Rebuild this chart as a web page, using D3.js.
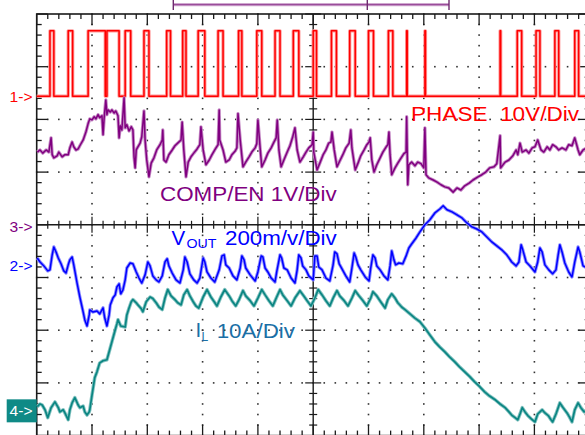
<!DOCTYPE html>
<html><head><meta charset="utf-8">
<script src="https://cdn.jsdelivr.net/npm/d3@7"></script>
<style>
html,body{margin:0;padding:0;background:#fff;}
svg{display:block;font-family:"Liberation Sans",Arial,sans-serif;}
</style></head><body>
<svg id="scope" width="585" height="435"></svg>
<script>
// Time axis: 10 divisions, 10 µs/div -> times in µs from the left edge of the screen.
const timeSpan = [0, 100];
const vertDivs = 4;              // ±4 divisions around the centre line
const minorPerDiv = 5;

// PHASE switch node: pulse [start, end] times in µs, levels in V
const phasePulses = [
  [2.4,3.1],[5.7,6.5],[9.3,12.4],[12.7,14.9],[16.0,17.0],[19.4,20.3],[23.5,24.2],[26.4,27.0],
  [29.2,30.4],[32.8,33.7],[36.5,37.1],[39.8,40.7],[43.1,44.0],[46.4,47.4],[50.0,50.6],[53.3,54.2],
  [56.6,57.6],[60.0,60.9],[63.6,64.4],[66.9,67.0],[70.2,70.3],[83.8,83.9],[86.9,87.7],[90.3,91.0],
  [93.7,94.4],[97.3,98.0]
];
const phaseHigh = 12.5;
const phaseLow = 0.1;

// COMP/EN pin voltage [µs, V]
const compTrace = [
  [0.1,1.42],[0.6,1.46],[1.1,1.40],[1.7,1.46],[2.2,1.42],[2.6,1.69],[2.8,1.37],[3.1,1.31],[3.7,1.35],[4.0,1.42],
  [4.6,1.33],[5.1,1.37],[5.7,1.37],[6.0,1.50],[6.4,1.61],[6.7,1.52],[7.1,1.46],[7.5,1.48],[7.8,1.54],[8.4,1.65],
  [8.9,1.80],[9.3,1.96],[9.6,2.05],[10.0,2.03],[10.4,2.09],[10.7,2.05],[11.1,2.13],[11.4,2.07],[11.8,2.11],[12.0,1.75],
  [12.2,2.07],[12.5,2.41],[12.7,2.13],[12.9,2.22],[13.3,2.18],[13.6,2.22],[14.0,2.16],[14.3,2.20],[14.7,2.11],[14.9,1.69],
  [15.1,1.92],[15.4,1.84],[15.8,2.45],[16.0,1.88],[16.3,1.94],[16.7,1.82],[17.1,1.90],[17.4,1.84],[17.6,1.33],[17.8,1.12],
  [18.0,1.46],[18.3,1.52],[18.7,1.59],[19.0,1.71],[19.4,2.20],[19.6,1.65],[19.9,1.27],[20.3,0.95],[20.7,1.21],[21.2,1.31],
  [21.7,1.46],[22.3,1.56],[22.7,1.65],[22.8,1.84],[23.0,1.27],[23.4,1.23],[23.9,1.37],[24.5,1.46],[25.0,1.54],[25.5,1.59],
  [26.1,1.65],[26.3,1.99],[26.6,1.46],[27.0,0.95],[27.4,1.23],[27.9,1.33],[28.4,1.40],[29.0,1.48],[29.5,1.56],[29.7,1.90],
  [30.1,1.46],[30.6,1.18],[31.2,1.27],[31.7,1.37],[32.2,1.46],[32.8,1.56],[33.0,2.22],[33.1,1.65],[33.7,1.46],[34.2,1.23],
  [34.8,1.27],[35.3,1.37],[35.9,1.44],[36.2,1.50],[36.4,2.15],[36.8,1.65],[37.3,1.14],[37.8,1.23],[38.4,1.33],[38.9,1.42],
  [39.5,1.50],[39.8,1.58],[40.0,2.03],[40.4,1.50],[40.7,1.14],[41.3,1.27],[41.8,1.40],[42.4,1.50],[42.9,1.61],[43.3,1.69],
  [43.5,2.03],[43.8,1.46],[44.2,1.14],[44.7,1.27],[45.3,1.42],[45.8,1.54],[46.3,1.71],[46.7,1.88],[47.1,1.46],[47.6,1.23],
  [48.2,1.33],[48.7,1.42],[49.2,1.50],[49.8,1.56],[50.0,1.80],[50.1,1.42],[50.7,1.08],[51.2,1.21],[51.8,1.37],[52.3,1.46],
  [52.8,1.59],[53.2,1.61],[53.4,1.80],[53.8,1.46],[54.3,1.14],[54.8,1.25],[55.4,1.38],[55.9,1.50],[56.5,1.59],[56.8,1.84],
  [57.0,1.50],[57.6,1.08],[58.1,1.21],[58.6,1.35],[59.2,1.46],[59.7,1.56],[60.1,1.61],[60.3,1.69],[60.6,1.27],[61.0,1.04],
  [61.5,1.18],[62.1,1.31],[62.6,1.42],[63.2,1.52],[63.5,1.56],[63.7,1.80],[63.9,1.37],[64.2,0.99],[64.8,1.12],[65.3,1.21],
  [65.9,1.31],[66.4,1.39],[66.8,1.42],[66.9,2.09],[67.1,0.80],[67.3,1.18],[67.8,1.23],[68.4,1.16],[68.9,1.23],[69.5,1.20],
  [70.0,1.12],[70.2,1.88],[70.4,0.99],[70.9,0.93],[71.7,0.89],[72.4,0.85],[73.1,0.80],[73.8,0.76],[74.5,0.74],[75.3,0.66],
  [76.0,0.74],[76.7,0.70],[77.4,0.78],[78.2,0.83],[78.9,0.89],[79.8,0.95],[80.5,0.99],[81.2,1.04],[81.9,1.12],[82.7,1.14],
  [83.2,1.20],[83.8,1.73],[83.9,1.12],[84.7,1.23],[85.4,1.27],[86.1,1.35],[86.7,1.46],[87.0,1.37],[87.4,1.59],[87.8,1.42],
  [88.5,1.46],[89.0,1.40],[89.6,1.50],[90.1,1.52],[90.6,1.65],[91.2,1.46],[91.7,1.42],[92.3,1.52],[92.8,1.46],[93.3,1.56],
  [93.9,1.52],[94.4,1.46],[95.0,1.50],[95.7,1.46],[96.2,1.56],[96.8,1.54],[97.3,1.69],[97.9,1.46],[98.2,1.37],[98.8,1.46],
  [99.5,1.50]
];

// Output voltage deviation [µs, mV]
const voutTrace = [
  [0.1,30],[0.6,15],[1.3,0],[2.0,-19],[2.4,-15],[2.8,42],[3.1,72],[3.5,53],[3.9,30],[4.4,8],
  [4.9,-19],[5.3,-27],[5.7,4],[6.0,23],[6.4,34],[6.7,4],[7.3,-65],[7.8,-118],[8.4,-175],[8.7,-205],
  [9.1,-228],[9.5,-186],[9.6,-167],[10.2,-175],[10.9,-171],[11.4,-182],[12.0,-159],[12.3,-197],[12.7,-228],[13.1,-186],
  [13.3,-148],[13.8,-121],[14.2,-110],[14.5,-80],[14.9,-68],[15.2,-106],[15.6,-91],[16.0,-53],[16.3,-8],[16.9,11],
  [17.4,8],[18.0,-23],[18.5,-46],[19.0,-65],[19.6,-34],[20.1,15],[20.5,0],[21.0,-38],[21.6,-53],[22.1,-61],
  [22.7,-38],[23.2,15],[23.6,27],[23.9,0],[24.5,-27],[25.2,-53],[25.9,-65],[26.5,-15],[26.8,34],[27.2,15],
  [27.7,-30],[28.4,-53],[29.0,-65],[29.5,-46],[30.1,30],[30.4,15],[30.8,-23],[31.5,-46],[32.2,-61],[33.0,-15],
  [33.5,38],[33.9,42],[34.2,4],[34.8,-8],[35.5,-38],[36.2,-53],[36.8,-8],[37.1,38],[37.5,23],[37.8,-8],
  [38.6,-34],[39.5,-57],[40.0,-23],[40.6,38],[40.9,34],[41.3,-8],[41.8,-23],[42.4,-46],[43.1,-61],[43.4,-23],
  [44.0,42],[44.3,30],[44.7,-8],[45.3,-15],[46.0,-46],[46.7,-65],[47.1,-15],[47.4,42],[47.8,30],[48.1,0],
  [48.7,-15],[49.2,-38],[50.0,-53],[50.3,38],[50.7,38],[51.0,-4],[51.6,-15],[52.3,-46],[53.0,-57],[53.6,4],
  [53.9,53],[54.3,46],[54.7,8],[55.2,-11],[55.9,-38],[56.6,-61],[57.0,-8],[57.4,49],[57.7,34],[58.1,4],
  [58.6,-15],[59.4,-42],[60.1,-57],[60.4,-8],[60.8,42],[61.2,30],[61.5,0],[62.1,-15],[62.8,-38],[63.5,-53],
  [63.9,0],[64.2,57],[64.6,23],[64.9,4],[65.5,11],[66.2,8],[66.8,38],[67.3,68],[67.8,83],[68.6,106],
  [69.3,129],[70.2,156],[71.1,175],[72.0,201],[72.9,216],[73.5,228],[74.2,213],[75.1,205],[76.0,194],[76.9,182],
  [77.8,163],[78.7,148],[79.6,140],[80.5,129],[81.4,110],[82.3,91],[83.2,76],[84.1,61],[85.0,42],[85.9,15],
  [86.7,0],[87.2,15],[87.6,80],[87.9,61],[88.5,15],[89.2,0],[90.1,-23],[90.6,15],[91.0,68],[91.4,53],
  [91.9,4],[92.6,-15],[93.3,-30],[93.9,-15],[94.3,42],[94.6,80],[95.0,53],[95.5,11],[96.2,-23],[96.8,-42],
  [97.3,15],[97.9,72],[98.2,53],[98.8,0],[99.5,-8]
];

// Inductor current [µs, A]
const ilTrace = [
  [0.1,0.8],[0.6,1.3],[1.0,1.1],[1.5,0.2],[2.0,-1.3],[2.6,0.6],[3.3,1.7],[3.9,0.6],[4.2,-0.2],[4.8,0.2],
  [5.1,-0.4],[5.7,-1.7],[6.0,0.2],[6.4,1.5],[6.9,2.5],[7.5,1.1],[7.8,0.6],[8.4,0.9],[8.7,-0.2],[9.1,-0.8],
  [9.5,-0.2],[9.6,0.2],[10.0,3.0],[10.5,6.3],[10.9,7.4],[11.4,9.1],[12.0,9.5],[12.7,9.7],[13.1,11.2],[13.6,13.1],
  [14.2,15.4],[14.5,16.5],[14.7,17.3],[15.2,16.1],[16.0,15.9],[16.3,18.2],[16.7,19.5],[17.1,20.7],[17.4,21.1],[18.0,20.5],
  [18.3,20.1],[18.9,19.4],[19.2,18.8],[19.8,20.7],[20.5,21.6],[21.0,21.3],[21.6,20.5],[22.1,19.7],[22.7,19.2],[23.2,21.4],
  [23.7,23.0],[24.3,21.8],[25.0,21.1],[25.5,20.5],[26.1,20.1],[26.6,22.0],[27.2,23.0],[27.7,21.8],[28.3,20.7],[28.8,19.9],
  [29.3,19.5],[30.1,21.6],[30.8,23.0],[31.5,21.6],[32.1,20.7],[32.6,19.9],[33.3,21.6],[34.0,23.0],[34.8,21.8],[35.3,20.9],
  [36.0,19.9],[36.6,21.1],[37.3,22.8],[37.8,21.8],[38.6,20.9],[39.3,19.9],[40.0,21.4],[40.7,23.0],[41.3,22.0],[42.0,20.9],
  [42.7,19.9],[43.4,21.6],[44.0,23.0],[44.5,22.0],[45.3,20.9],[46.0,19.9],[46.7,21.4],[47.6,22.8],[48.3,21.8],[48.9,20.9],
  [49.6,19.9],[50.3,21.4],[50.9,23.0],[51.6,22.0],[52.3,20.9],[53.0,19.9],[53.6,21.4],[54.3,22.8],[54.8,21.8],[55.6,20.9],
  [56.3,19.9],[57.0,21.4],[57.6,22.8],[58.3,21.8],[59.0,20.9],[59.7,19.9],[60.4,21.4],[60.8,22.6],[61.5,21.8],[62.2,20.7],
  [63.0,19.5],[63.5,21.1],[64.2,22.2],[64.8,21.4],[65.3,20.5],[66.0,19.7],[66.6,19.2],[67.5,18.4],[68.4,17.6],[69.3,16.9],
  [70.2,15.7],[71.1,14.4],[72.0,13.1],[72.9,12.1],[73.8,11.2],[74.7,10.2],[75.6,9.3],[76.5,8.3],[77.4,7.4],[78.3,6.5],
  [79.2,5.5],[80.1,4.6],[81.0,3.6],[81.9,2.8],[82.9,2.1],[83.8,1.3],[84.7,0.6],[85.4,-0.2],[85.9,-0.8],[86.5,-1.3],
  [87.0,-1.7],[87.4,-0.6],[87.8,0.6],[88.3,-0.2],[88.8,-0.9],[89.4,-1.5],[90.1,-2.1],[90.6,-0.6],[91.4,0.2],[91.9,-0.4],
  [92.5,-0.9],[93.0,-1.7],[93.3,-2.1],[93.9,-0.6],[94.6,1.5],[95.2,0.6],[95.9,-0.4],[96.4,-1.3],[96.8,-2.1],[97.3,0.2],
  [97.9,1.5],[98.4,0.6],[99.0,-0.2],[99.5,0.2]
];

// Vertical settings per channel: units per division and ground-marker offset in divisions
const channelSettings = {
  phase: { perDiv: 10,  offset: 2.43,  color: "#ff0000", halo: "#ff9a9a", marker: "1->" },
  comp:  { perDiv: 1,   offset: -0.04, color: "#800080", halo: "#c58ac5", marker: "3->" },
  vout:  { perDiv: 200, offset: -0.78, color: "#0000ff", halo: "#8c8cff", marker: "2->" },
  il:    { perDiv: 10,  offset: -3.53, color: "#0a8582", halo: "#86c4c2", marker: "4->" }
};

// ---------- layout ----------
const screen = { left: 36.7, right: 589.7, top: 14, bottom: 435.6 };
const svg = d3.select("#scope");

const x = d3.scaleLinear().domain(timeSpan).range([screen.left, screen.right]);
const yDiv = d3.scaleLinear().domain([-vertDivs, vertDivs]).range([screen.bottom, screen.top]);
const chanY = ch => v => yDiv(v / ch.perDiv + ch.offset);

const usPerDiv = (timeSpan[1] - timeSpan[0]) / 10;
const minorT = d3.range(timeSpan[0], timeSpan[1] + 1e-9, usPerDiv / minorPerDiv);
const minorV = d3.range(-vertDivs, vertDivs + 1e-9, 1 / minorPerDiv);
const isMajorT = t => Math.abs(t / usPerDiv - Math.round(t / usPerDiv)) < 1e-6;
const isMajorV = v => Math.abs(v - Math.round(v)) < 1e-6;

// ---------- graticule ----------
const grid = svg.append("g").attr("class", "graticule");
const ink = "#1a1a1a";

// dotted major grid lines
d3.range(1, 10).filter(i => i !== 5).forEach(i => {
  const gx = x(i * usPerDiv);
  grid.selectAll(null).data(minorV).join("rect")
    .attr("x", gx - 0.8).attr("y", d => yDiv(d) - 0.8)
    .attr("width", 1.6).attr("height", 1.6).attr("fill", "#333");
});
d3.range(-vertDivs + 1, vertDivs).filter(k => k !== 0).forEach(k => {
  const gy = yDiv(k);
  grid.selectAll(null).data(minorT).join("rect")
    .attr("x", d => x(d) - 0.8).attr("y", gy - 0.8)
    .attr("width", 1.6).attr("height", 1.6).attr("fill", "#333");
});

// centre cross-hair axes
grid.append("line").attr("x1", screen.left).attr("x2", screen.right)
  .attr("y1", yDiv(0)).attr("y2", yDiv(0)).attr("stroke", ink).attr("stroke-width", 1.4);
grid.append("line").attr("x1", x(50)).attr("x2", x(50))
  .attr("y1", screen.top).attr("y2", screen.bottom).attr("stroke", ink).attr("stroke-width", 1.4);
grid.selectAll(null).data(minorT).join("line")
  .attr("x1", d => x(d)).attr("x2", d => x(d))
  .attr("y1", d => yDiv(0) - (isMajorT(d) ? 8 : 4)).attr("y2", d => yDiv(0) + (isMajorT(d) ? 8 : 4))
  .attr("stroke", ink).attr("stroke-width", 1.2);
grid.selectAll(null).data(minorV).join("line")
  .attr("y1", d => yDiv(d)).attr("y2", d => yDiv(d))
  .attr("x1", d => x(50) - (isMajorV(d) ? 8 : 4)).attr("x2", d => x(50) + (isMajorV(d) ? 8 : 4))
  .attr("stroke", ink).attr("stroke-width", 1.2);

// screen frame with inward ticks
grid.append("rect").attr("x", screen.left).attr("y", screen.top)
  .attr("width", screen.right - screen.left).attr("height", screen.bottom - screen.top)
  .attr("fill", "none").attr("stroke", ink).attr("stroke-width", 1.6);
[[screen.top, 1], [screen.bottom, -1]].forEach(([edge, dir]) => {
  grid.selectAll(null).data(minorT).join("line")
    .attr("x1", d => x(d)).attr("x2", d => x(d))
    .attr("y1", edge).attr("y2", d => edge + dir * (isMajorT(d) ? 11 : 5))
    .attr("stroke", ink).attr("stroke-width", 1.3);
});
[[screen.left, 1], [screen.right, -1]].forEach(([edge, dir]) => {
  grid.selectAll(null).data(minorV).join("line")
    .attr("y1", d => yDiv(d)).attr("y2", d => yDiv(d))
    .attr("x1", edge).attr("x2", d => edge + dir * (isMajorV(d) ? 11 : 5))
    .attr("stroke", ink).attr("stroke-width", 1.3);
});

// record-length bar above the screen
const recBar = svg.append("g");
const barLeft = 173.3, barRight = 449, barMark = 367.3;
recBar.append("line").attr("x1", barLeft).attr("x2", barRight).attr("y1", 4.7).attr("y2", 4.7)
  .attr("stroke", "#cfa8cf").attr("stroke-width", 3.2);
recBar.append("line").attr("x1", barLeft).attr("x2", barRight).attr("y1", 4.7).attr("y2", 4.7)
  .attr("stroke", "#9a4c9a").attr("stroke-width", 1.2);
[barLeft, barMark, barRight].forEach(bx => {
  recBar.append("line").attr("x1", bx).attr("x2", bx).attr("y1", 0).attr("y2", 10)
    .attr("stroke", "#6e2a6e").attr("stroke-width", 1.4);
});

// ---------- traces ----------
const traces = svg.append("g");
function drawTrace(points, ch, core) {
  const yc = chanY(ch);
  const line = d3.line().x(d => x(d[0])).y(d => yc(d[1]));
  traces.append("path").attr("d", line(points)).attr("fill", "none")
    .attr("stroke", ch.halo).attr("stroke-width", core + 1.8).attr("stroke-linejoin", "round");
  traces.append("path").attr("d", line(points)).attr("fill", "none")
    .attr("stroke", ch.color).attr("stroke-width", core).attr("stroke-linejoin", "round");
}

// PHASE: square wave built from the pulse edges
const phasePoints = [[timeSpan[0], phaseLow]];
phasePulses.forEach(([s, e]) => {
  phasePoints.push([s, phaseLow], [s, phaseHigh], [e, phaseHigh], [e, phaseLow]);
});
phasePoints.push([99.5, phaseLow]);

drawTrace(phasePoints, channelSettings.phase, 1.5);
drawTrace(compTrace, channelSettings.comp, 1.5);
drawTrace(ilTrace, channelSettings.il, 1.7);
drawTrace(voutTrace, channelSettings.vout, 1.5);

// ---------- channel ground markers ----------
const markers = svg.append("g").attr("font-size", 15.5);
["phase", "comp", "vout"].forEach(k => {
  const ch = channelSettings[k];
  markers.append("text").attr("x", 9.5).attr("y", chanY(ch)(0))
    .attr("dy", "0.36em").attr("fill", ch.color)
    .attr("textLength", 23).attr("lengthAdjust", "spacingAndGlyphs").text(ch.marker);
});
{
  const ch = channelSettings.il;
  const my = chanY(ch)(0);
  markers.append("rect").attr("x", 6.7).attr("y", my - 11.5).attr("width", 30).attr("height", 23)
    .attr("fill", "#0f8a86");
  markers.append("text").attr("x", 9.5).attr("y", my).attr("dy", "0.36em").attr("fill", "#fff")
    .attr("textLength", 23).attr("lengthAdjust", "spacingAndGlyphs").text(ch.marker);
}

// ---------- channel labels ----------
const labels = svg.append("g").attr("font-size", 20.5);
labels.append("text").attr("x", 411).attr("y", 120.7).attr("fill", "#ff0000")
  .style("white-space", "pre").attr("textLength", 168).attr("lengthAdjust", "spacingAndGlyphs")
  .text("PHASE  10V/Div");
labels.append("text").attr("x", 160).attr("y", 201).attr("fill", "#800080")
  .attr("textLength", 176.7).attr("lengthAdjust", "spacingAndGlyphs")
  .text("COMP/EN 1V/Div");

const vLabel = labels.append("g").attr("fill", "#0000ff");
vLabel.append("text").attr("x", 171.5).attr("y", 244.5).text("V");
vLabel.append("text").attr("x", 186.5).attr("y", 247.5).attr("font-size", 12)
  .attr("textLength", 30).attr("lengthAdjust", "spacingAndGlyphs").text("OUT");
vLabel.append("text").attr("x", 225).attr("y", 245).attr("textLength", 111.7)
  .attr("lengthAdjust", "spacingAndGlyphs").text("200m/v/Div");

const iLabel = labels.append("g").attr("fill", "#1b6fa6");
iLabel.append("text").attr("x", 195.5).attr("y", 337).text("I");
iLabel.append("text").attr("x", 201.5).attr("y", 340.5).attr("font-size", 12).text("L");
iLabel.append("text").attr("x", 216.7).attr("y", 338.3).attr("textLength", 78.3)
  .attr("lengthAdjust", "spacingAndGlyphs").text("10A/Div");
</script>
</body></html>
